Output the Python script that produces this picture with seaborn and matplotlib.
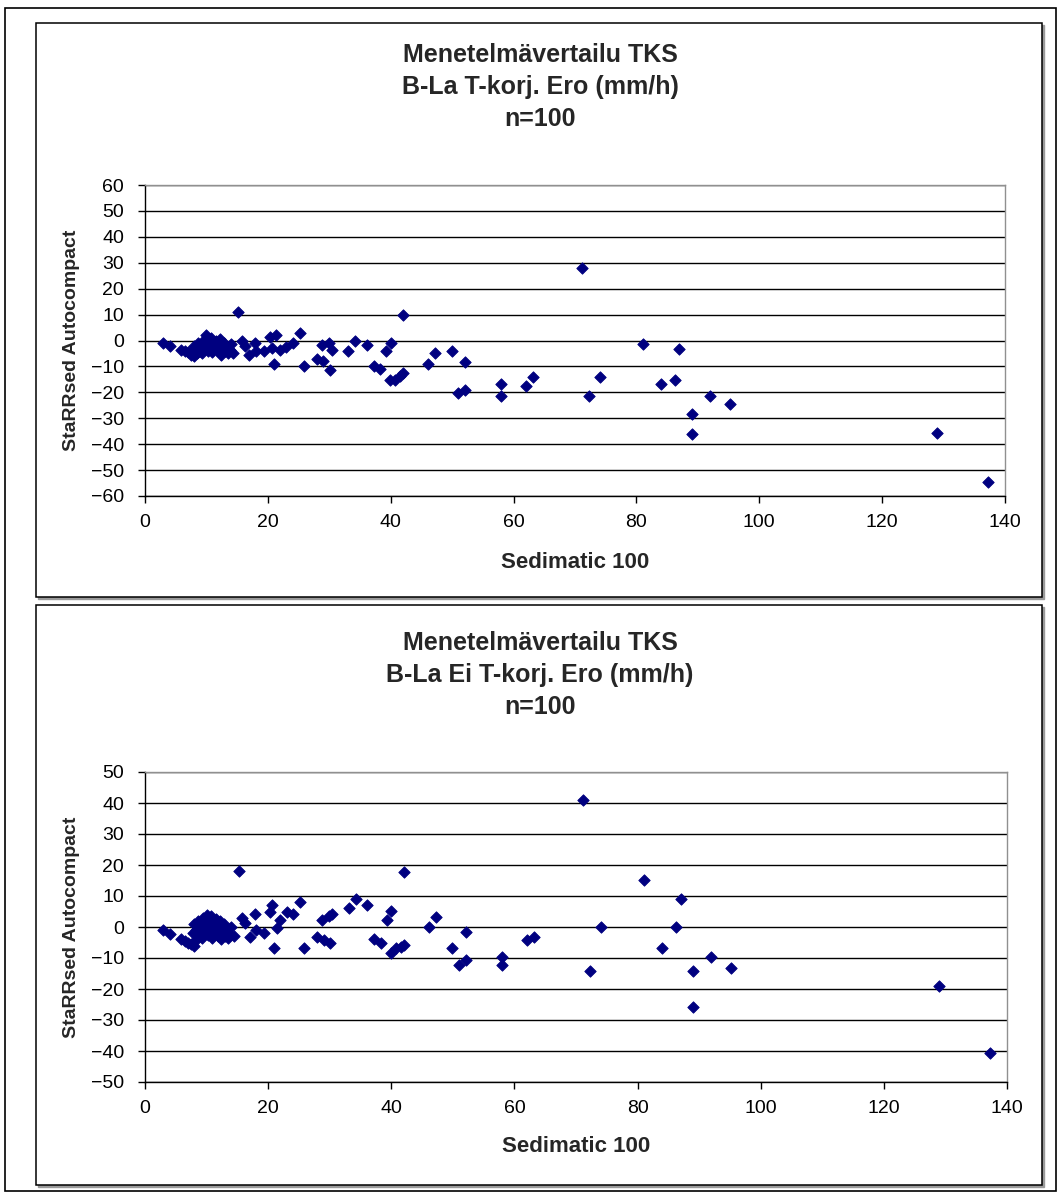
import matplotlib
matplotlib.use("Agg")
import matplotlib.pyplot as plt
from matplotlib.patches import Rectangle
import seaborn as sns
import pandas as pd

# ---- data ----
sedimatic = [
    3.0, 4.0, 5.8, 6.5, 7.0, 7.5, 7.8, 8.0, 8.0, 8.3, 8.4, 8.6, 8.9, 9.0, 9.2, 9.4, 9.5, 9.7, 9.9, 10.0,
    10.2, 10.4, 10.6, 10.8, 10.9, 11.0, 11.0, 11.3, 11.5, 11.7, 11.9, 12.0, 12.2, 12.3, 12.4, 12.6, 12.8, 13.0, 13.2, 13.5,
    13.8, 14.0, 14.4, 15.2, 15.8, 16.2, 17.0, 17.9, 18.0, 19.4, 20.3, 20.6, 21.0, 21.4, 22.0, 23.0, 24.1, 25.2, 25.9, 28.0,
    28.8, 29.0, 29.9, 30.1, 30.4, 33.1, 34.2, 36.1, 37.2, 38.3, 39.3, 39.9, 40.0, 40.7, 41.5, 42.0, 42.0, 46.1, 47.2, 49.9,
    51.0, 52.1, 52.1, 58.0, 58.0, 62.1, 63.2, 71.2, 72.2, 74.0, 81.0, 84.0, 86.3, 87.0, 89.0, 89.0, 92.0, 95.2, 129.0, 137.2,
]
ero_tkorj = [
    -1.0, -2.0, -3.5, -4.0, -4.5, -5.5, -3.5, -2.0, -6.0, -3.0, -5.0, -1.0, -4.0, -2.5, -5.0, -1.5, 0.0, -3.0, -1.5, 2.0,
    -4.0, 0.5, -2.0, 1.0, -4.5, -3.5, -0.5, -2.5, 0.0, -1.5, -4.0, -1.0, 0.5, -5.5, -2.0, -3.0, -1.0, -4.0, -2.5, -5.0,
    -3.5, -1.5, -5.0, 11.0, 0.0, -2.0, -5.6, -1.0, -4.0, -4.0, 1.5, -3.0, -9.0, 2.0, -3.6, -2.4, -1.0, 3.0, -9.8, -7.0,
    -1.7, -8.0, -1.0, -11.3, -3.6, -4.0, 0.0, -1.7, -9.8, -11.0, -4.0, -15.3, -1.0, -15.3, -13.7, -12.7, 9.8, -9.0, -5.0, -4.0,
    -20.4, -19.0, -8.2, -16.6, -21.4, -17.5, -14.2, 28.0, -21.3, -14.0, -1.4, -16.6, -15.3, -3.1, -28.5, -36.1, -21.3, -24.6, -35.6, -54.5,
]
ero_ei_tkorj = [
    -1.0, -2.3, -4.0, -4.5, -5.0, -5.5, -2.0, 1.0, -6.0, -1.0, -4.0, 2.0, -2.0, 0.5, -3.5, 0.0, 3.0, -1.0, 1.5, 4.0,
    -2.5, 3.0, 0.0, 3.5, -3.5, -2.0, 2.0, -0.5, 2.5, 0.5, -3.0, 1.0, 2.0, -4.0, -1.0, -2.0, 1.0, -3.0, -1.5, -3.5,
    -2.5, 0.0, -3.0, 18.0, 3.0, 1.2, -3.1, 4.2, -1.0, -2.0, 5.0, 7.1, -6.9, -0.4, 2.3, 5.0, 4.2, 8.2, -6.9, -3.1,
    2.3, -4.2, 3.5, -5.3, 4.2, 6.0, 8.9, 7.1, -4.0, -5.0, 2.3, -8.5, 5.3, -6.9, -6.5, -5.8, 17.8, -0.1, 3.1, -6.9,
    -12.3, -10.6, -1.5, -9.6, -12.3, -4.2, -3.1, 41.0, -14.1, -0.1, 15.2, -6.9, -0.1, 8.9, -14.1, -25.8, -9.8, -13.1, -19.0, -40.6,
]

titles = [
    "Menetelmävertailu TKS\nB-La T-korj. Ero (mm/h)\nn=100",
    "Menetelmävertailu TKS\nB-La Ei T-korj. Ero (mm/h)\nn=100",
]
x_label = "Sedimatic 100"
y_label = "StaRRsed Autocompact"
x_ticks = [0, 20, 40, 60, 80, 100, 120, 140]
y_ticks_top = list(range(-60, 61, 10))
y_ticks_bottom = list(range(-50, 51, 10))

df = pd.DataFrame({"x": sedimatic, "y1": ero_tkorj, "y2": ero_ei_tkorj})

sns.set_style("white")
plt.rcParams["font.family"] = ["Liberation Sans", "DejaVu Sans"]

W, H = 1062, 1194
fig = plt.figure(figsize=(W / 100, H / 100), dpi=100)
fig.patch.set_facecolor("white")


def fx(px):
    return px / W


def fy(py):
    return 1 - py / H


# outer frame
fig.add_artist(Rectangle((fx(5), fy(1191)), fx(1056) - fx(5), fy(8) - fy(1191),
                         transform=fig.transFigure, fill=False, ec="black", lw=1.2))

# chart boxes with shadow
for (x0, y0, x1, y1) in [(36, 23, 1042, 597), (36, 605, 1042, 1185)]:
    fig.add_artist(Rectangle((fx(x0 + 2), fy(y1 + 2)), fx(x1) - fx(x0), fy(y0) - fy(y1),
                             transform=fig.transFigure, fill=True, fc="#9a9a9a", ec="#9a9a9a", lw=1))
    fig.add_artist(Rectangle((fx(x0), fy(y1)), fx(x1) - fx(x0), fy(y0) - fy(y1),
                             transform=fig.transFigure, fill=True, fc="white", ec="black", lw=1.1))

specs = [
    dict(ycol="y1", rect=(145, 185, 1005, 496), ylim=(-60, 60), yt=y_ticks_top, title=titles[0], tl=(55, 87, 119), xl=563),
    dict(ycol="y2", rect=(145, 772, 1007, 1082), ylim=(-50, 50), yt=y_ticks_bottom, title=titles[1], tl=(643, 675, 707), xl=1146),
]

for sp in specs:
    l, t, r, b = sp["rect"]
    ax = fig.add_axes([fx(l), fy(b), fx(r) - fx(l), fy(t) - fy(b)])
    ax.set_facecolor("white")
    ax.set_zorder(2)
    sns.scatterplot(data=df, x="x", y=sp["ycol"], ax=ax, marker="D", s=34,
                    color="#000080", edgecolor="#000080", linewidth=0.6, zorder=3, legend=False)
    ax.set_xlim(0, 140)
    ax.set_ylim(*sp["ylim"])
    ax.set_xticks(x_ticks)
    ax.set_yticks(sp["yt"])
    ax.yaxis.grid(True, color="black", lw=1.0)
    ax.xaxis.grid(False)
    ax.set_axisbelow(True)
    for side in ["top", "right"]:
        ax.spines[side].set_color("#909090")
        ax.spines[side].set_linewidth(1.0)
    for side in ["left", "bottom"]:
        ax.spines[side].set_color("black")
        ax.spines[side].set_linewidth(1.0)
    ax.tick_params(axis="both", which="major", direction="out", length=5, width=1,
                   color="black", labelsize=14, labelcolor="black", left=True, bottom=True)
    ax.tick_params(axis="x", pad=8)
    ax.tick_params(axis="y", pad=10)
    ax.set_xlabel("")
    ax.set_ylabel("")
    # titles
    for line, ty in zip(sp["title"].split("\n"), sp["tl"]):
        fig.text(fx(540), fy(ty), line, ha="center", va="center", fontsize=18, fontweight="bold")
    fig.text(fx((l + r) / 2), fy(sp["xl"]), x_label, ha="center", va="center", fontsize=16, fontweight="bold")
    fig.text(fx(72), fy((t + b) / 2), y_label, ha="center", va="center", rotation=90,
             fontsize=14, fontweight="bold")

fig.savefig("out.png", dpi=100, facecolor="white")
